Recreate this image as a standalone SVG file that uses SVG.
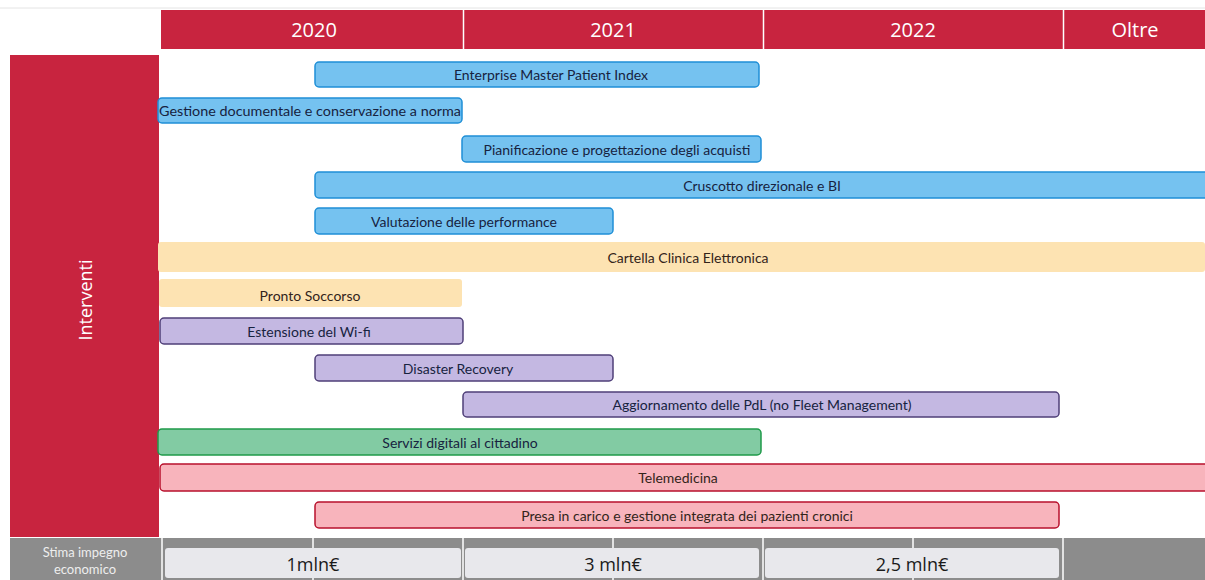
<svg xmlns="http://www.w3.org/2000/svg" width="1205" height="580" viewBox="0 0 1205 580">
  <style>
    .hdr { fill: #c8243f; }
    .hdrtxt { font-family: "Open Sans", "Liberation Sans", sans-serif; font-size: 20px; fill: #ffffff; text-anchor: middle; }
    .bar { stroke-width: 1.5; }
    .blue { fill: #75c2f0; stroke: #1f8fd6; }
    .peach { fill: #fde3b2; stroke: none; }
    .lav { fill: #c4b8e2; stroke: #4f3f78; }
    .green { fill: #82cba3; stroke: #1f9a4a; }
    .pink { fill: #f8b4bc; stroke: #b8102c; }
    .lbl { font-family: Lato, "Liberation Sans", sans-serif; font-size: 14px; text-anchor: middle; dominant-baseline: central; }
    .dk { fill: #17233f; }
    .br { fill: #33241a; }
    .cost { fill: #e8e8ec; }
    .costtxt { font-family: "Open Sans", "Liberation Sans", sans-serif; font-size: 18px; fill: #1a1a1a; text-anchor: middle; dominant-baseline: central; }
    .div { stroke: #ffffff; stroke-width: 1.5; }
    .side { font-family: Lato, "Liberation Sans", sans-serif; font-size: 13px; fill: #eeeeee; text-anchor: middle; dominant-baseline: central; }
  </style>

  <rect width="1205" height="580" fill="#ffffff"/>
  <line x1="0" y1="8" x2="1205" y2="8" stroke="#e4e4e4" stroke-width="1"/>

  <!-- timeline header -->
  <g id="header">
    <rect class="hdr" x="161" y="10" width="1044" height="39"/>
    <line class="div" x1="463.5" y1="10" x2="463.5" y2="49"/>
    <line class="div" x1="763.5" y1="10" x2="763.5" y2="49"/>
    <line class="div" x1="1063.5" y1="10" x2="1063.5" y2="49"/>
    <text class="hdrtxt" x="314" y="37">2020</text>
    <text class="hdrtxt" x="613" y="37">2021</text>
    <text class="hdrtxt" x="913" y="37">2022</text>
    <text class="hdrtxt" x="1135" y="37">Oltre</text>
  </g>

  <!-- side panel -->
  <g id="interventi">
    <rect x="10" y="55" width="149" height="482" fill="#c8243f"/>
    <text transform="translate(92,300) rotate(-90)" font-family="'Open Sans', 'Liberation Sans', sans-serif" font-size="18" fill="#ffffff" text-anchor="middle">Interventi</text>
  </g>

  <!-- cost estimate row -->
  <g id="stima">
    <rect x="10" y="538" width="1195" height="42" fill="#8c8c8c"/>
    <line class="div" x1="162" y1="538" x2="162" y2="580"/>
    <line class="div" x1="313" y1="538" x2="313" y2="580"/>
    <line class="div" x1="463" y1="538" x2="463" y2="580"/>
    <line class="div" x1="613" y1="538" x2="613" y2="580"/>
    <line class="div" x1="763" y1="538" x2="763" y2="580"/>
    <line class="div" x1="913" y1="538" x2="913" y2="580"/>
    <line class="div" x1="1063" y1="538" x2="1063" y2="580"/>
    <text class="side" x="85" y="552">Stima impegno</text>
    <text class="side" x="85" y="569">economico</text>
  </g>
  <g id="cost-2020">
    <rect class="cost" x="165" y="548" width="296" height="30" rx="3"/>
    <text class="costtxt" x="313" y="564">1mln€</text>
  </g>
  <g id="cost-2021">
    <rect class="cost" x="465" y="548" width="294" height="30" rx="3"/>
    <text class="costtxt" x="613" y="564">3 mln€</text>
  </g>
  <g id="cost-2022">
    <rect class="cost" x="765" y="548" width="294" height="30" rx="3"/>
    <text class="costtxt" x="912" y="564">2,5 mln€</text>
  </g>

  <!-- interventions -->
  <g id="empi">
    <rect class="bar blue" x="315" y="62" width="444" height="25" rx="4"/>
    <text class="lbl dk" x="551" y="74.5">Enterprise Master Patient Index</text>
  </g>
  <g id="gestione-documentale">
    <rect class="bar blue" x="158" y="98" width="304" height="25" rx="4"/>
    <text class="lbl dk" x="310" y="110.5" textLength="302" lengthAdjust="spacingAndGlyphs">Gestione documentale e conservazione a norma</text>
  </g>
  <g id="pianificazione">
    <rect class="bar blue" x="462" y="136" width="299" height="26" rx="4"/>
    <text class="lbl dk" x="617" y="149">Pianificazione e progettazione degli acquisti</text>
  </g>
  <g id="cruscotto">
    <rect class="bar blue" x="315" y="172" width="895" height="26" rx="4"/>
    <text class="lbl dk" x="762" y="185">Cruscotto direzionale e BI</text>
  </g>
  <g id="valutazione">
    <rect class="bar blue" x="315" y="208" width="298" height="26" rx="4"/>
    <text class="lbl dk" x="464" y="221">Valutazione delle performance</text>
  </g>
  <g id="cartella-clinica">
    <rect class="peach" x="158" y="242" width="1047" height="30" rx="3"/>
    <text class="lbl br" x="688" y="257">Cartella Clinica Elettronica</text>
  </g>
  <g id="pronto-soccorso">
    <rect class="peach" x="159" y="279" width="303" height="28" rx="3"/>
    <text class="lbl br" x="310" y="295">Pronto Soccorso</text>
  </g>
  <g id="wifi">
    <rect class="bar lav" x="160" y="318" width="303" height="26" rx="4"/>
    <text class="lbl dk" x="309" y="331">Estensione del Wi-fi</text>
  </g>
  <g id="disaster-recovery">
    <rect class="bar lav" x="315" y="355" width="298" height="26" rx="4"/>
    <text class="lbl dk" x="458" y="368">Disaster Recovery</text>
  </g>
  <g id="aggiornamento-pdl">
    <rect class="bar lav" x="463" y="392" width="596" height="25" rx="4"/>
    <text class="lbl dk" x="762" y="404.5">Aggiornamento delle PdL (no Fleet Management)</text>
  </g>
  <g id="servizi-digitali">
    <rect class="bar green" x="158" y="429" width="603" height="26" rx="4"/>
    <text class="lbl dk" x="460" y="442">Servizi digitali al cittadino</text>
  </g>
  <g id="telemedicina">
    <rect class="bar pink" x="160" y="464" width="1050" height="27" rx="4"/>
    <text class="lbl br" x="678" y="477.5">Telemedicina</text>
  </g>
  <g id="presa-in-carico">
    <rect class="bar pink" x="315" y="502" width="744" height="26" rx="4"/>
    <text class="lbl br" x="687" y="515">Presa in carico e gestione integrata dei pazienti cronici</text>
  </g>

  <!-- no connectors in this chart -->
  <g id="connectors"/>
</svg>
